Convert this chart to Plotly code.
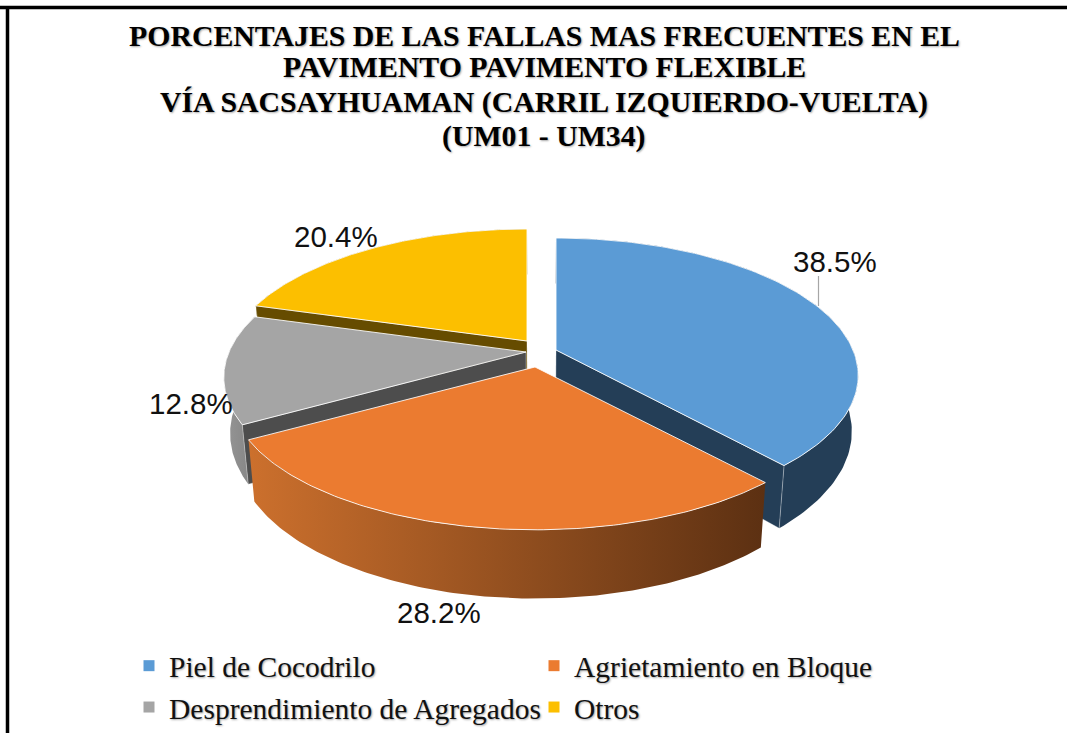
import numpy as np
import plotly.graph_objects as go

# --- data -----------------------------------------------------------------
categories = ["Piel de Cocodrilo", "Agrietamiento en Bloque",
              "Desprendimiento de Agregados", "Otros"]
percent = [38.5, 28.2, 12.8, 20.4]
title_lines = ["PORCENTAJES DE LAS FALLAS MAS FRECUENTES EN EL",
               "PAVIMENTO PAVIMENTO FLEXIBLE",
               "VÍA SACSAYHUAMAN (CARRIL IZQUIERDO-VUELTA)",
               "(UM01 - UM34)"]

# --- styling / geometry of the tilted pie ---------------------------------
top_colors = ["#5b9bd5", "#eb7b30", "#a5a5a5", "#fcbf00"]
edge_colors = ["#243e57", "#5c3012", "#4d4d4d", "#664c00"]
rim_scales = [["#243e57", "#243e57"], ["#cc702d", "#5c3012"],
              ["#969696", "#808080"], ["#664c00", "#664c00"]]
apex = [(556, 350), (535, 367), (526, 352), (527, 341)]
widen = [1.0, 1.01, 1.0, 1.0]
depths = [54, 56, 54, 54]
label_pos = [(835, 261), (439, 612), (191, 403), (336, 236)]
title_y = [35, 66, 102, 136]
RX, RY, PERSP, SHRINK, CX = 297, 132.7, 0.185, 0.98, 540
SERIF = "Liberation Serif"
SHADOW = "1px 1px 2px rgba(0,0,0,0.35)"


def project(i, theta, low=False):
    a = apex[i]
    u, v = np.sin(theta), -np.cos(theta)
    f = 1 / (1 - PERSP * v)
    x, y = a[0] + RX * widen[i] * u * f, a[1] + RY * v * f
    if low:
        x, y = CX + (x - CX) * SHRINK, y + depths[i] * f
    return x, y


fractions = np.array(percent) / 100
ends = np.cumsum(fractions)
ends[-1] = 1.0
starts = np.r_[0, ends[:-1]]

fig = go.Figure()


def poly(x, y, **kw):
    fig.add_trace(go.Scatter(x=x, y=y, mode="lines", fill="toself",
                             showlegend=False, hoverinfo="skip", **kw))


for i in [3, 2, 0, 1]:      # back to front
    a = apex[i]
    t = 2 * np.pi * np.linspace(starts[i], ends[i], 120)
    tx, ty = project(i, t)
    bx, by = project(i, t, low=True)
    # outer rim
    scale = rim_scales[i]
    poly(np.r_[tx, bx[::-1], tx[0]], np.r_[ty, by[::-1], ty[0]],
         line=dict(width=0), fillcolor=scale[0],
         fillgradient=dict(type="horizontal",
                           colorscale=[[0, scale[0]], [1, scale[1]]]))
    # exposed radial wall
    edge_t = t[-1] if i == 0 else t[0]
    ex, ey = project(i, edge_t)
    ebx, eby = project(i, edge_t, low=True)
    lowa = (CX + (a[0] - CX) * SHRINK, a[1] + depths[i])
    if i != 1:
        poly([a[0], ex, ebx, lowa[0], a[0]], [a[1], ey, eby, lowa[1], a[1]],
             line=dict(width=0.6, color="rgba(255,255,255,0.6)"),
             fillcolor=edge_colors[i])
    # top face
    poly(np.r_[a[0], tx, a[0]], np.r_[a[1], ty, a[1]],
         line=dict(width=1, color="rgba(255,255,255,0.85)"),
         fillcolor=top_colors[i])

# legend entries
for name, col in zip(categories, top_colors):
    fig.add_trace(go.Scatter(x=[None], y=[None], mode="markers", name=name,
                             marker=dict(symbol="square", size=11, color=col)))

# value labels
annotations = [dict(x=p[0], y=p[1], xref="x", yref="y", showarrow=False,
                    text=f"{v:.1f}%",
                    font=dict(family="Liberation Sans", size=29.5, color="#111"))
               for v, p in zip(percent, label_pos)]
# title lines
annotations += [dict(x=544, y=y, xref="x", yref="y", showarrow=False,
                     text=f"<b>{line}</b>",
                     font=dict(family=SERIF, size=29.8, color="#000",
                               shadow=SHADOW))
                for line, y in zip(title_lines, title_y)]

fig.update_layout(
    width=1067, height=733, autosize=False,
    margin=dict(l=0, r=0, t=0, b=0, autoexpand=False),
    paper_bgcolor="white", plot_bgcolor="white",
    xaxis=dict(range=[0, 1067], visible=False, fixedrange=True),
    yaxis=dict(range=[733, 0], visible=False, fixedrange=True),
    legend=dict(orientation="h", x=129 / 1067, xanchor="left",
                y=1 - 640 / 733, yanchor="top",
                entrywidth=360, entrywidthmode="pixels", itemwidth=30,
                bgcolor="rgba(0,0,0,0)",
                font=dict(family=SERIF, size=29.5, color="#111", shadow=SHADOW)),
    annotations=annotations,
    shapes=[
        dict(type="line", x0=0, x1=1067, y0=7.5, y1=7.5, xref="x", yref="y",
             line=dict(color="#000", width=3.5)),
        dict(type="line", x0=7.5, x1=7.5, y0=6, y1=733, xref="x", yref="y",
             line=dict(color="#000", width=3.5)),
        dict(type="line", x0=818.5, x1=818.5, y0=276, y1=306, xref="x", yref="y",
             line=dict(color="#a6a6a6", width=1.2)),
    ],
)

fig.write_html("out.html", config=dict(displayModeBar=False),
               post_script="document.body.style.margin='0';"
                           "document.body.style.overflow='hidden';")
